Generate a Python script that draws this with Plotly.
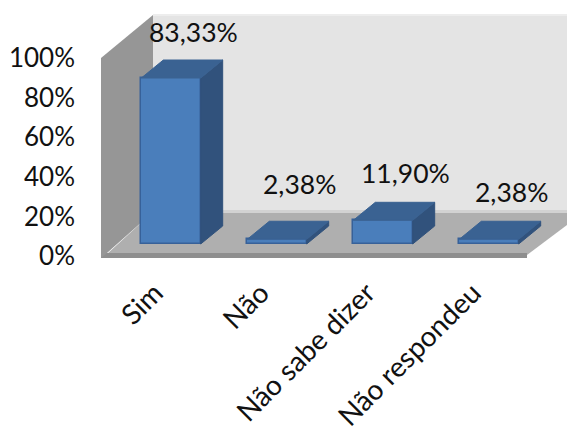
import plotly.graph_objects as go

categories = ["Sim", "Não", "Não sabe dizer", "Não respondeu"]
values = [83.33, 2.38, 11.90, 2.38]
value_labels = ["83,33%", "2,38%", "11,90%", "2,38%"]
label_nudge = [-1, 8, 0, 0]
y_ticks = [0, 20, 40, 60, 80, 100]
y_tick_labels = ["0%", "20%", "40%", "60%", "80%", "100%"]

WIDTH, HEIGHT = 567, 434
LEFT, BOTTOM = 95, 172
PLOT_W, PLOT_H = WIDTH - LEFT, HEIGHT - BOTTOM

# Axis scales: one category step is 106 px, one percent is 1.992 px
STEP = 106.0
UNIT = 1.992
X0_PX, Y0_PX = 171.0, 244.0
x_range = [(LEFT - X0_PX) / STEP, (WIDTH - X0_PX) / STEP]
y_range = [(Y0_PX - PLOT_H) / UNIT, Y0_PX / UNIT]

BAR_W = 0.56
DEPTH_X = 22 / STEP
DEPTH_Y = 18 / UNIT
FONT = "Lato"
INK = "#111111"
positions = list(range(len(categories)))


def chart_box(points, fill):
    """Closed polygon for the chart's box, from window positions to plot fractions."""
    coords = [((x - LEFT) / PLOT_W, (PLOT_H - y) / PLOT_H) for x, y in points]
    path = "M" + " L".join(f"{x:.4f},{y:.4f}" for x, y in coords) + " Z"
    return dict(type="path", xref="paper", yref="paper", path=path,
                fillcolor=fill, line=dict(width=0), layer="below")


shapes = [
    chart_box([(153, 15), (567, 15), (567, 213), (153, 213)], "#E4E4E4"),
    chart_box([(153, 14), (567, 14), (567, 16), (153, 16)], "#EDEDED"),
    chart_box([(153, 212), (567, 212), (567, 225), (527, 255), (107, 254)], "#AFAFAF"),
    chart_box([(153, 210), (567, 210), (567, 213), (153, 213)], "#D2D2D2"),
    chart_box([(101, 253), (527, 253), (527, 258), (101, 258)], "#8E8E8E"),
    chart_box([(101, 58), (153, 15), (153, 212), (107, 253), (101, 258)], "#969696"),
]

side_x, side_y, top_x, top_y = [], [], [], []
for p, v in zip(positions, values):
    right = p + BAR_W / 2
    left = p - BAR_W / 2
    side_x += [right, right + DEPTH_X, right + DEPTH_X, right, right, None]
    side_y += [0, DEPTH_Y, v + DEPTH_Y, v, 0, None]
    top_x += [left, left + DEPTH_X, right + DEPTH_X, right, left, None]
    top_y += [v, v + DEPTH_Y, v + DEPTH_Y, v, v, None]

fig = go.Figure()
fig.add_trace(go.Scatter(x=side_x, y=side_y, mode="lines", fill="toself",
                         fillcolor="#31527C", line=dict(color="#31527C", width=1),
                         hoverinfo="skip"))
fig.add_trace(go.Scatter(x=top_x, y=top_y, mode="lines", fill="toself",
                         fillcolor="#3A6292", line=dict(color="#3A6292", width=1),
                         hoverinfo="skip"))
fig.add_trace(go.Bar(x=positions, y=values, width=BAR_W,
                     marker=dict(color="#4A7EBB", line=dict(color="#376199", width=1.5))))
# Second value axis carries the percent labels along the front edge of the box
fig.add_trace(go.Scatter(x=positions, y=values, yaxis="y2", mode="markers",
                         marker=dict(opacity=0), hoverinfo="skip"))

for p, v, text, nudge in zip(positions, values, value_labels, label_nudge):
    fig.add_annotation(x=p + 0.21, y=v, text=text, showarrow=False, xanchor="center",
                       yanchor="middle", yshift=47 + nudge,
                       font=dict(family=FONT, size=26.5, color=INK))

fig.update_layout(
    width=WIDTH, height=HEIGHT, showlegend=False, bargap=0,
    margin=dict(l=LEFT, r=0, t=0, b=BOTTOM, pad=0),
    paper_bgcolor="white", plot_bgcolor="white", shapes=shapes,
    font=dict(family=FONT, size=26, color=INK),
    xaxis=dict(range=x_range, tickmode="array", tickvals=positions, ticktext=categories,
               tickangle=-45, showgrid=False, zeroline=False, showline=False, ticks="",
               ticklabelstandoff=8, ticklabelshift=-16,
               tickfont=dict(family=FONT, size=28, color=INK)),
    yaxis=dict(range=y_range, visible=False, fixedrange=True),
    yaxis2=dict(overlaying="y", side="left", anchor="x",
                range=[(256 - PLOT_H) / 1.98, 256 / 1.98],
                tickmode="array", tickvals=y_ticks, ticktext=y_tick_labels,
                showgrid=False, zeroline=False, showline=False, ticks="",
                ticklabelstandoff=19,
                tickfont=dict(family=FONT, size=26, color=INK)),
)

fig.write_html("out.html", config=dict(displayModeBar=False))
